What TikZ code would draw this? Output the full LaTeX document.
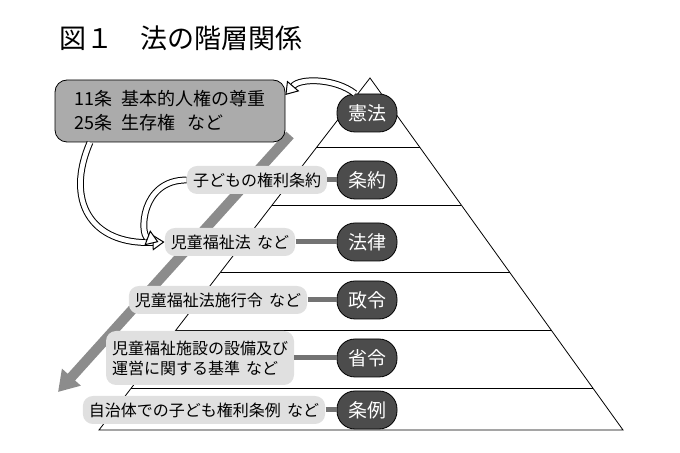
\documentclass[tikz,border=0pt]{standalone}
\usepackage{fontspec}
\setmainfont{Noto Sans CJK JP}
\usetikzlibrary{arrows.meta,positioning}
\tikzset{
  law/.style={rounded corners=9pt, fill=black!70, draw=black, text=white, minimum width=30pt, minimum height=19pt, inner sep=2pt, font=\fontsize{9.5}{10}\selectfont},
  ex/.style={rounded corners=5pt, fill=black!12, text=black, minimum height=14pt, inner sep=3pt, font=\fontsize{8}{10}\selectfont, align=left},
  link/.style={line width=2.5pt, black!55},
  hollow/.style={draw=black, line width=0.5pt, double=white, double distance=2.4pt, -{Triangle[open, length=6pt, width=8pt, line width=0.5pt, fill=white]}},
}
\begin{document}
\begin{tikzpicture}[x=0.5pt, y=-0.5pt]
      \useasboundingbox (0,0) rectangle (680,453);
      \node[anchor=west, font=\fontsize{13.5}{15}\selectfont] (title) at (52,38) {図１　法の階層関係};

      % big grey arrow
      \coordinate (ga) at (290,135);
      \coordinate (gb) at (58,392);
      \draw[line width=5pt, black!45, -{Triangle[length=10pt, width=12pt]}] (ga) -- (gb);

      % pyramid
      \coordinate (top) at (370,78);
      \coordinate (bl) at (99,430);
      \coordinate (br) at (623,430);
      \draw[thin] (top) -- (bl) -- (br) -- cycle;
      \foreach \y in {147,205,272,330,388} {
        \draw[thin] ({370-0.77*(\y-78)},\y) -- ({370+0.72*(\y-78)},\y);
      }

      \node[law] (kenpo) at (367,113) {憲法};
      \node[law] (joyaku) at (367,180) {条約};
      \node[law] (horitsu) at (367,242) {法律};
      \node[law] (seirei) at (367,300) {政令};
      \node[law] (shorei) at (367,358) {省令};
      \node[law] (jorei) at (367,410) {条例};

      \node[ex] (kodomo) at (257,180) {子どもの権利条約};
      \node[ex] (jido) at (230,242) {児童福祉法\,\ など};
      \node[ex] (shiko) at (218,300) {児童福祉法施行令\,\ など};
      \node[ex, minimum height=27pt] (kijun) at (200,358) {児童福祉施設の設備及び\\運営に関する基準\,\ など};
      \node[ex] (jichi) at (204,410) {自治体での子ども権利条例\,\ など};

      \draw[link] (kodomo) -- (joyaku);
      \draw[link] (jido) -- (horitsu);
      \draw[link] (shiko) -- (seirei);
      \draw[link] (kijun) -- (shorei);
      \draw[link] (jichi) -- (jorei);

      \node[draw=black, fill=black!33, rounded corners=6pt, minimum width=115pt, minimum height=31pt, align=left, font=\fontsize{9}{12}\selectfont] (art) at (170,111) {11条\ \ 基本的人権の尊重\\25条\ \ 生存権\ \ \ など};

      % hollow arrows
      \draw[hollow] ([xshift=-6pt]kenpo.north) .. controls (335,78) and (300,78) .. ([yshift=8pt]art.east);
      \draw[hollow] ([xshift=-40pt]art.south) .. controls (65,200) and (90,245) .. (jido.west);
      \draw[hollow] (kodomo.west) .. controls (140,180) and (140,235) .. ([xshift=-3pt]jido.west);
\end{tikzpicture}
\end{document}
